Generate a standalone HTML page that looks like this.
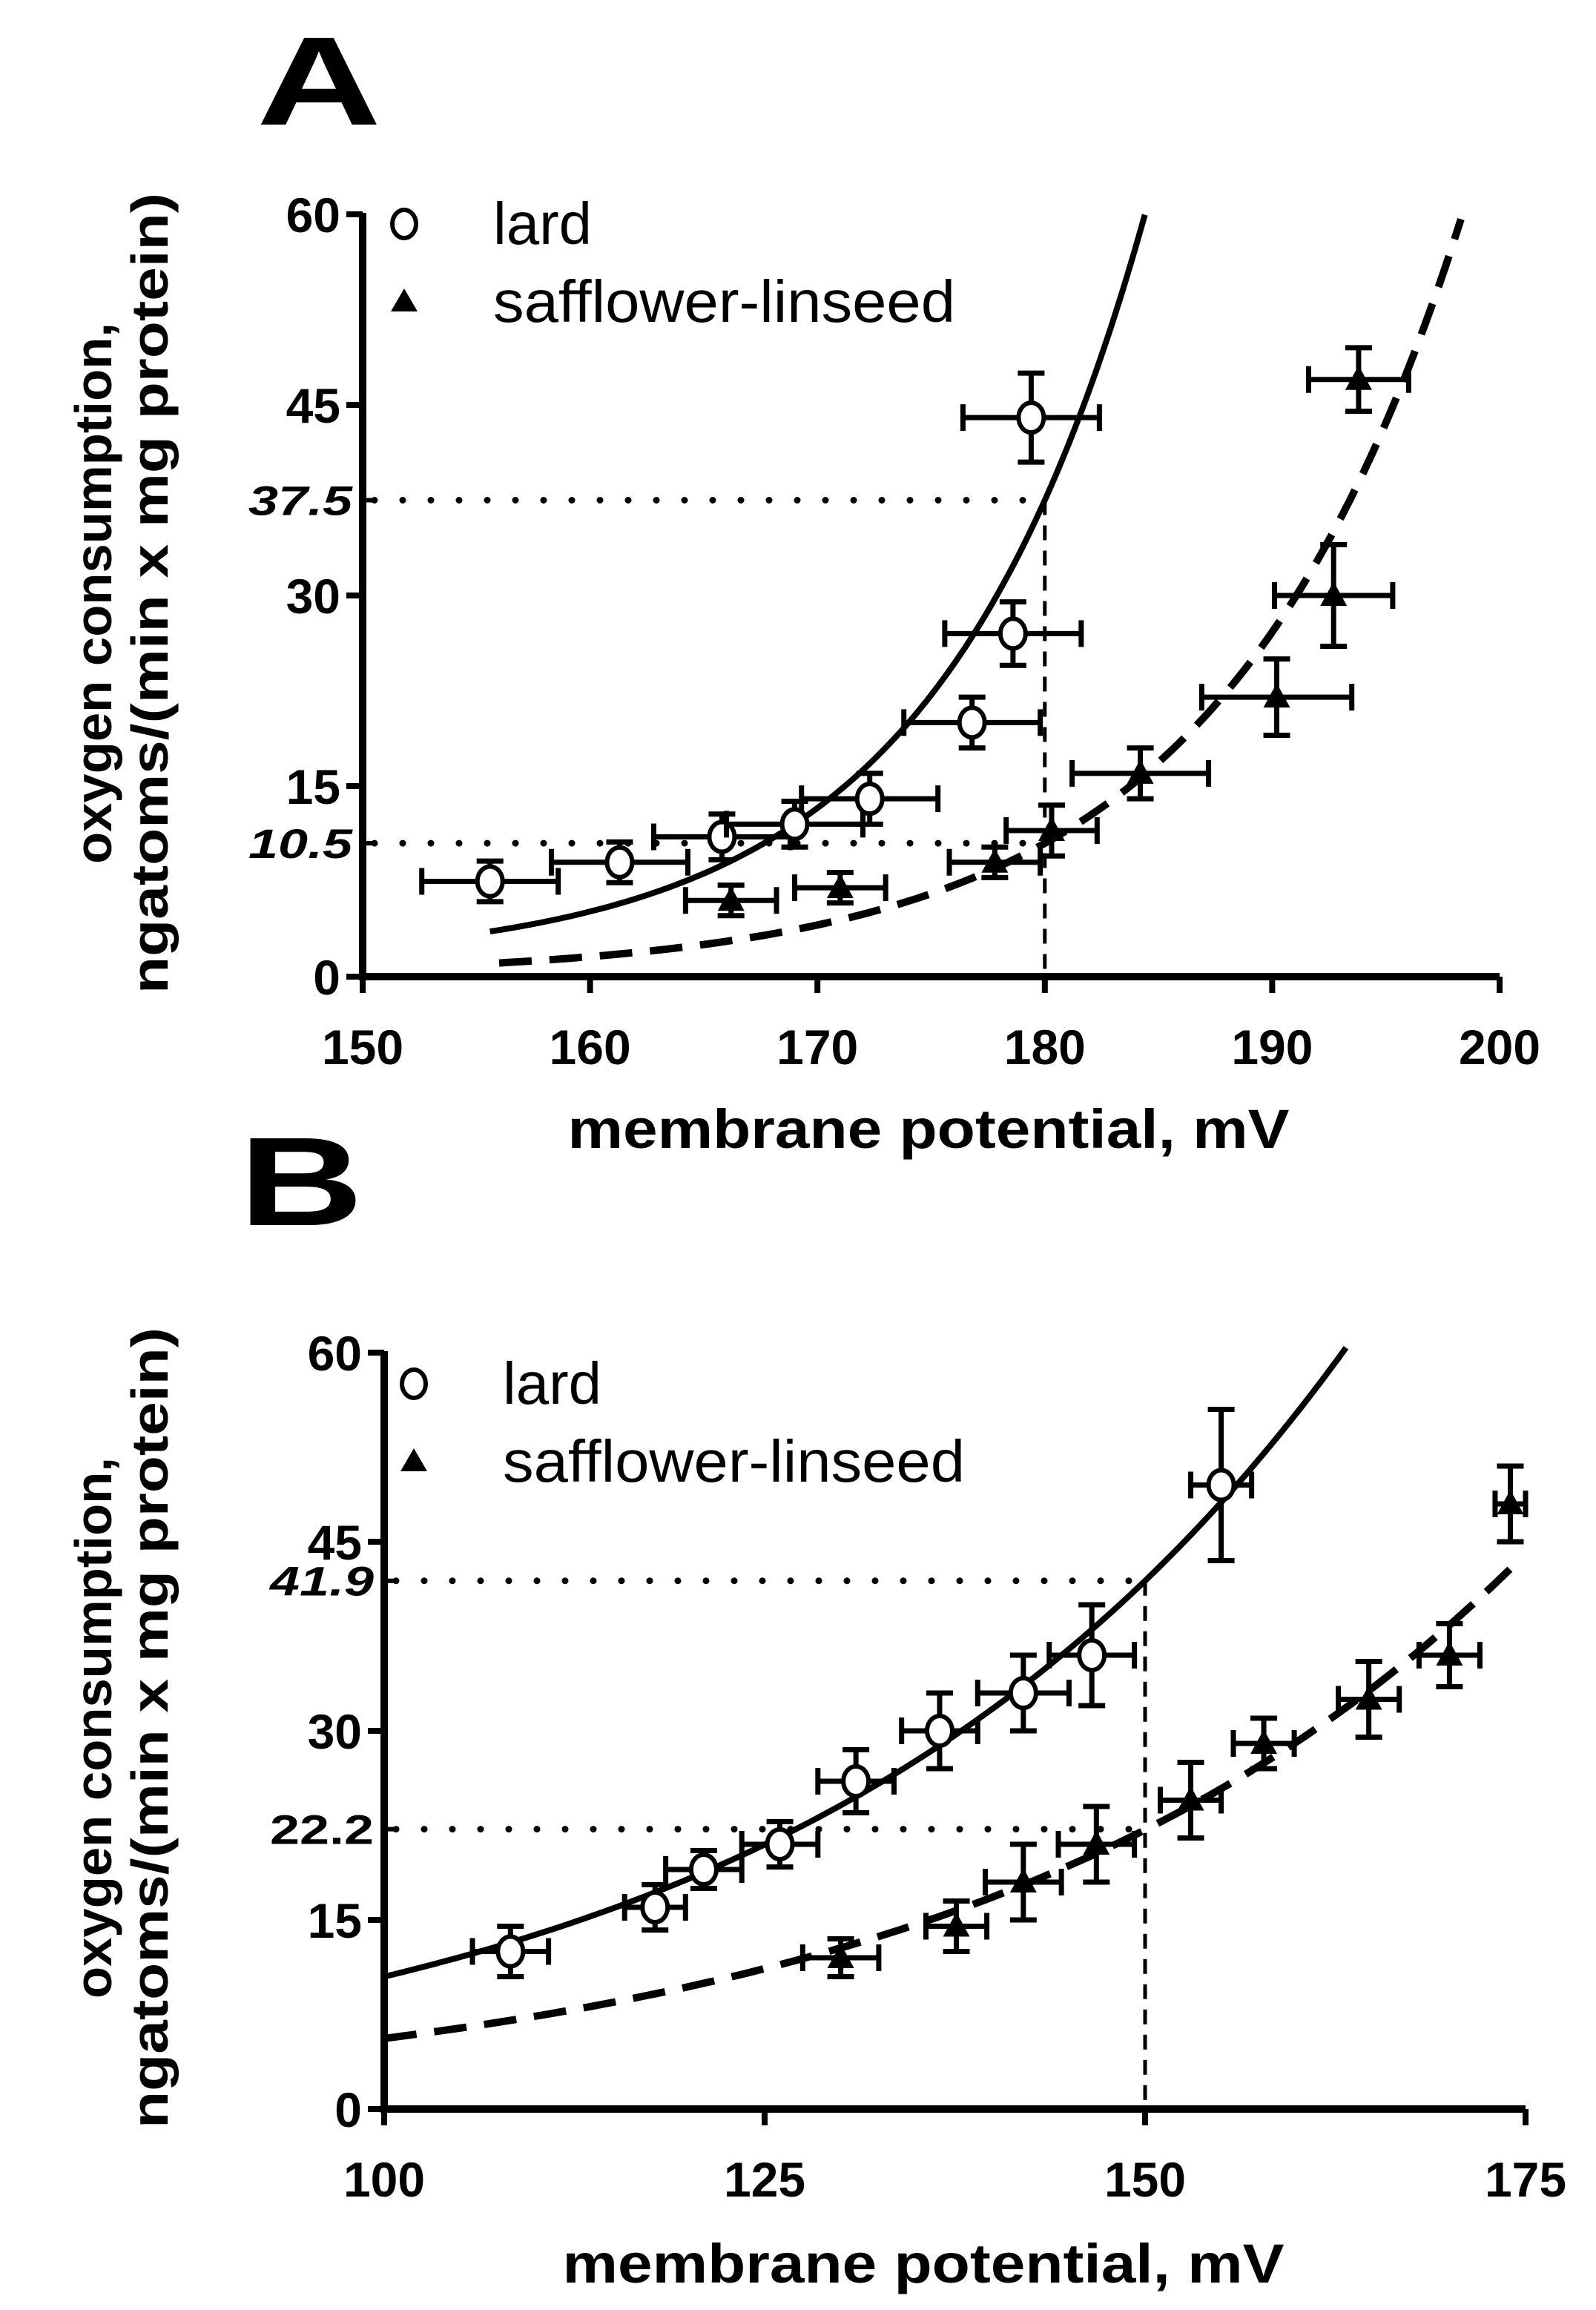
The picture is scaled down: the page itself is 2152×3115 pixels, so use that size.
<!DOCTYPE html>
<html><head><meta charset="utf-8"><style>
html,body{margin:0;padding:0;background:#fff}
svg{display:block}
text{font-family:"Liberation Sans",sans-serif}
</style></head><body>
<svg id="fig" width="2152" height="3115" viewBox="0 0 2152 3115" xmlns="http://www.w3.org/2000/svg"></svg>
<script>
// ---- Panel A data ----
const aXTicks=[150,160,170,180,190,200];
const aYTicks=[0,15,30,45,60];
const aLardX=[155.6,161.3,165.8,169.0,172.3,176.8,178.6,179.4];
const aLardY=[7.5,9.0,11.0,12.0,14.0,20.0,27.0,44.0];
const aLardXErr=[3.0,3.0,3.0,3.0,3.0,3.0,3.0,3.0];
const aLardYErr=[1.6,1.6,1.8,1.8,2.0,2.0,2.5,3.5];
const aSafX=[166.2,171.0,177.8,180.3,184.2,190.2,192.7,193.8];
const aSafY=[6.0,7.0,9.0,11.5,16.0,22.0,30.0,47.0];
const aSafXErr=[2.0,2.0,2.0,2.0,3.0,3.3,2.6,2.2];
const aSafYErr=[1.2,1.2,1.2,2.0,2.0,3.0,4.0,2.5];
const aLardFit=[1,36.5,0.109,180,155.6,184.4]; // c, A, k, x0, from, to
const aSafFit=[0,10.5,0.0949,180,156,198.3];
const aRefY=[37.5,10.5];
const aRefX=[180];
// ---- Panel B data ----
const bXTicks=[100,125,150,175];
const bYTicks=[0,15,30,45,60];
const bLardX=[108.3,117.8,121.0,126.0,131.0,136.5,142.0,146.5,155.0];
const bLardY=[12.5,16.0,19.0,21.0,26.0,30.0,33.0,36.0,49.5];
const bLardXErr=[2.5,2.0,2.5,2.5,2.5,2.5,3.0,2.8,2.0];
const bLardYErr=[2.0,1.8,1.5,1.8,2.5,3.0,3.0,4.0,6.0];
const bSafX=[130.0,137.6,142.0,146.8,153.0,157.8,164.7,170.0,174.0];
const bSafY=[12.0,14.5,18.0,21.0,24.5,29.0,32.5,36.0,48.0];
const bSafXErr=[2.5,2.0,2.5,2.5,2.0,2.0,2.0,2.0,1.0];
const bSafYErr=[1.5,2.0,3.0,3.0,3.0,2.0,3.0,2.5,3.0];
const bLardFit=[0,10.5,0.02768,100,100,163.2];
const bSafFit=[0,5.6,0.0275,100,100,174];
const bRefY=[41.9,22.2];
const bRefX=[150];

const NS="http://www.w3.org/2000/svg";
const svg=document.getElementById('fig');
function mk(tag,attrs,parent){const e=document.createElementNS(NS,tag);for(const k in attrs)e.setAttribute(k,attrs[k]);(parent||svg).appendChild(e);return e;}
function txt(s,attrs,parent){const e=mk('text',attrs,parent);e.textContent=s;return e;}
const BIG='"DejaVu Sans","Liberation Sans",sans-serif';

function panel(cfg){
  const g=mk('g',{});
  
  
  const X=v=>cfg.px0+(v-cfg.xmin)/(cfg.xmax-cfg.xmin)*(cfg.px1-cfg.px0);
  const Y=v=>cfg.py0-(v-0)/60*(cfg.py0-cfg.py1);
  const L=txt(cfg.letter,{x:cfg.letterX,y:cfg.letterY,'font-size':170,'font-weight':'bold','font-family':BIG,textLength:168,lengthAdjust:'spacingAndGlyphs',fill:'#000'},g);
  
  
  const yt=mk('g',{transform:`translate(${cfg.ytX},${cfg.ytY}) rotate(-90)`},g);
  
  
  txt('oxygen consumption,',{x:0,y:0,'text-anchor':'middle','font-size':70,'font-weight':'bold',textLength:730,lengthAdjust:'spacingAndGlyphs'},yt);
  txt('ngatoms/(min x mg protein)',{x:0,y:76,'text-anchor':'middle','font-size':70,'font-weight':'bold',textLength:1080,lengthAdjust:'spacingAndGlyphs'},yt);
  const xt=txt('membrane potential, mV',{x:cfg.xtX,y:cfg.xtY,'text-anchor':'middle','font-size':74,'font-weight':'bold',textLength:973,lengthAdjust:'spacingAndGlyphs'},g);
  
  
  const ax=mk('path',{d:`M${cfg.px0},${cfg.py1-2} V${cfg.py0} H${cfg.px1}`,stroke:'#000','stroke-width':10,fill:'none'},g);
  
  
  cfg.yTicks.forEach(v=>{
    const t=mk('line',{x1:cfg.px0-22,x2:cfg.px0,y1:Y(v),y2:Y(v),stroke:'#000','stroke-width':8},g);
    
    
    const l=txt(String(v),{x:cfg.px0-30,y:Y(v)+24,'text-anchor':'end','font-size':66,'font-weight':'bold','font-family':BIG},g);
    
    
  });
  cfg.xTicks.forEach(v=>{
    const t=mk('line',{x1:X(v),x2:X(v),y1:cfg.py0,y2:cfg.py0+22,stroke:'#000','stroke-width':8},g);
    
    
    const l=txt(String(v),{x:X(v),y:cfg.py0+118,'text-anchor':'middle','font-size':66,'font-weight':'bold','font-family':BIG},g);
    
    
  });
  cfg.refY.forEach((v,i)=>{
    const d=mk('line',{x1:cfg.px0+16,x2:X(cfg.refX[0]),y1:Y(v),y2:Y(v),stroke:'#000','stroke-width':9,'stroke-dasharray':'0 38','stroke-linecap':'round'},g);
    
    
    mk('line',{x1:cfg.px0,x2:cfg.px0+18,y1:Y(v),y2:Y(v),stroke:'#000','stroke-width':6},g);
    const l=txt(String(v),{x:cfg.px0-14,y:Y(v)+20,'text-anchor':'end','font-size':56,'font-weight':'bold','font-style':i===0||cfg.italicAll?'italic':'normal','font-family':'"DejaVu Serif","Liberation Serif",serif',textLength:140,lengthAdjust:'spacingAndGlyphs'},g);
    
    
  });
  const vd=mk('line',{x1:X(cfg.refX[0]),x2:X(cfg.refX[0]),y1:Y(cfg.refY[0]),y2:cfg.py0,stroke:'#000','stroke-width':5,'stroke-dasharray':'20 14'},g);
  
  
  function fit(p,dash,name){
    let d='';const n=120;
    for(let i=0;i<=n;i++){const x=p[4]+(p[5]-p[4])*i/n;const y=p[0]+p[1]*Math.exp(p[2]*(x-p[3]));d+=(i?'L':'M')+X(x).toFixed(1)+','+Y(y).toFixed(1);}
    const e=mk('path',{d:d,stroke:'#000','stroke-width':dash?10:8,fill:'none'},g);
    if(dash)e.setAttribute('stroke-dasharray','44 24');
    
    
  }
  fit(cfg.lardFit,false,'lard-fit-curve');
  fit(cfg.safFit,true,'safflower-fit-curve');
  function series(xs,ys,xe,ye,type,name){
    xs.forEach((xv,i)=>{
      const pg=mk('g',{},g);
      
      
      const cx=X(xv),cy=Y(ys[i]);
      const x1=X(xv-xe[i]),x2=X(xv+xe[i]),y1=Y(ys[i]+ye[i]),y2=Y(ys[i]-ye[i]);
      const st={stroke:'#000','stroke-width':7,fill:'none'};
      mk('path',Object.assign({d:`M${x1},${cy}H${x2}M${x1},${cy-18}V${cy+18}M${x2},${cy-18}V${cy+18}M${cx},${y1}V${y2}M${cx-18},${y1}H${cx+18}M${cx-18},${y2}H${cx+18}`},st),pg);
      if(type==='circle')mk('ellipse',{cx:cx,cy:cy,rx:17,ry:20,fill:'#fff',stroke:'#000','stroke-width':6},pg);
      else mk('path',{d:`M${cx},${cy-19}L${cx+18},${cy+14}L${cx-18},${cy+14}Z`,fill:'#000'},pg);
    });
  }
  series(cfg.lx,cfg.ly,cfg.lxe,cfg.lye,'circle','lard');
  series(cfg.sx,cfg.sy,cfg.sxe,cfg.sye,'tri','safflower');
  const lg=mk('g',{},g);
  
  
  const e1=mk('g',{},lg);
  
  
  mk('ellipse',{cx:cfg.lgX,cy:cfg.lgY,rx:16,ry:19,fill:'#fff',stroke:'#000','stroke-width':6},e1);
  txt('lard',{x:cfg.lgX+120,y:cfg.lgY+27,'font-size':80,textLength:133,lengthAdjust:'spacingAndGlyphs'},e1);
  const e2=mk('g',{},lg);
  
  
  const ty=cfg.lgY+105;
  mk('path',{d:`M${cfg.lgX},${ty-18}L${cfg.lgX+18},${ty+13}L${cfg.lgX-18},${ty+13}Z`,fill:'#000'},e2);
  txt('safflower-linseed',{x:cfg.lgX+120,y:ty+27,'font-size':80,textLength:623,lengthAdjust:'spacingAndGlyphs'},e2);
}

panel({name:'panel-a',letter:'A',letterX:346,letterY:168,xmin:150,xmax:200,px0:489,px1:2022,py0:1317,py1:289,
  xTicks:aXTicks,yTicks:aYTicks,refY:aRefY,refX:aRefX,lardFit:aLardFit,safFit:aSafFit,
  lx:aLardX,ly:aLardY,lxe:aLardXErr,lye:aLardYErr,sx:aSafX,sy:aSafY,sxe:aSafXErr,sye:aSafYErr,
  ytX:150,ytY:800,xtX:1252,xtY:1548,lgX:545,lgY:302,italicAll:true});
panel({name:'panel-b',letter:'B',letterX:322,letterY:1652,xmin:100,xmax:175,px0:518,px1:2057,py0:2844,py1:1824,
  xTicks:bXTicks,yTicks:bYTicks,refY:bRefY,refX:bRefX,lardFit:bLardFit,safFit:bSafFit,
  lx:bLardX,ly:bLardY,lxe:bLardXErr,lye:bLardYErr,sx:bSafX,sy:bSafY,sxe:bSafXErr,sye:bSafYErr,
  ytX:150,ytY:2330,xtX:1245,xtY:3078,lgX:558,lgY:1866,italicAll:false});
</script>
</body></html>
